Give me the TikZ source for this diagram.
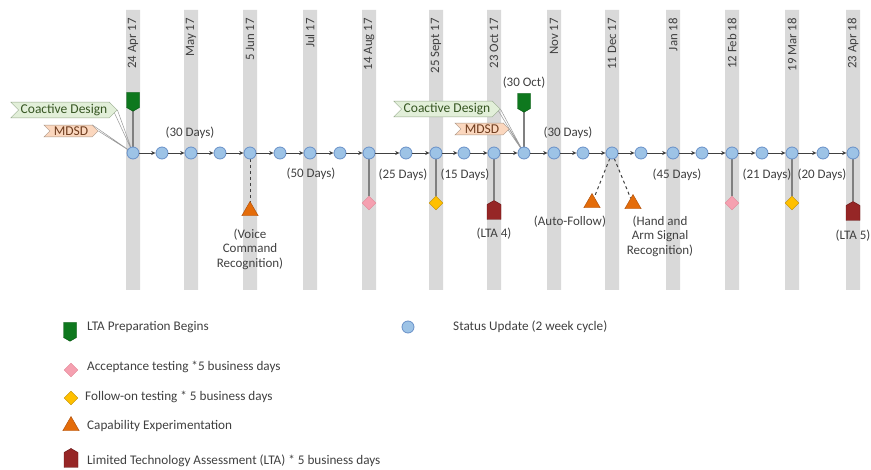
\documentclass[tikz,border=0pt]{standalone}
\usepackage{fontspec}
\setmainfont{Carlito}
\usetikzlibrary{arrows.meta,shapes.geometric,shapes.symbols,backgrounds}

\definecolor{bargray}{RGB}{217,217,217}
\definecolor{txtgray}{RGB}{64,64,64}
\definecolor{stemgray}{RGB}{128,128,128}
\definecolor{updfill}{RGB}{157,195,230}
\definecolor{updline}{RGB}{105,145,200}
\definecolor{prepfill}{RGB}{14,120,30}
\definecolor{prepline}{RGB}{0,80,10}
\definecolor{ltafill}{RGB}{150,38,38}
\definecolor{ltaline}{RGB}{100,20,20}
\definecolor{accfill}{RGB}{245,160,176}
\definecolor{accline}{RGB}{225,135,150}
\definecolor{folfill}{RGB}{255,192,0}
\definecolor{folline}{RGB}{190,140,0}
\definecolor{capfill}{RGB}{228,108,10}
\definecolor{capline}{RGB}{170,75,5}
\definecolor{cdfill}{RGB}{226,239,217}
\definecolor{cdline}{RGB}{150,170,140}
\definecolor{cdtext}{RGB}{55,86,35}
\definecolor{mdfill}{RGB}{251,215,190}
\definecolor{mdline}{RGB}{170,150,135}
\definecolor{mdtext}{RGB}{110,60,30}

\tikzset{
  upd/.style={circle,draw=updline,fill=updfill,line width=0.8pt,minimum size=12pt,inner sep=0pt},
  tl/.style={-{Stealth[length=4.5pt,width=4pt]},draw=txtgray,line width=0.9pt},
  datelbl/.style={rotate=90,anchor=east,text=txtgray,inner sep=0pt,font=\fontsize{12.8}{14}\selectfont},
  lbl/.style={text=txtgray,align=center,inner sep=0pt,font=\fontsize{13}{14.5}\selectfont},
  leg/.style={text=txtgray,anchor=west,inner sep=0pt,font=\fontsize{13.2}{15}\selectfont},
  prep/.style={signal,signal to=south,signal pointer angle=120,draw=prepline,fill=prepfill,
    minimum width=13pt,minimum height=15pt,inner sep=0pt},
  lta/.style={signal,signal to=north,signal pointer angle=120,draw=ltaline,fill=ltafill,
    minimum width=14pt,minimum height=15pt,inner sep=0pt},
  acc/.style={diamond,draw=accline,fill=accfill,minimum size=14pt,inner sep=0pt},
  fol/.style={diamond,draw=folline,fill=folfill,minimum size=14pt,inner sep=0pt},
  capexp/.style={regular polygon,regular polygon sides=3,draw=capline,fill=capfill,minimum size=19pt,inner sep=0pt},
  cdbanner/.style={signal,signal from=west,signal to=east,draw=cdline,fill=cdfill,text=cdtext,
    inner xsep=2pt,inner ysep=2pt,font=\fontsize{13.5}{14}\selectfont},
  mdbanner/.style={signal,signal from=west,signal to=east,draw=mdline,fill=mdfill,text=mdtext,
    inner xsep=4pt,inner ysep=1.5pt,font=\fontsize{13.5}{14}\selectfont},
  stem/.style={draw=stemgray,line width=1.2pt},
  dstem/.style={draw=txtgray,dashed,line width=1pt},
  ptr/.style={draw=stemgray!80,line width=0.5pt}
}

\begin{document}
\begin{tikzpicture}[x=1pt,y=-1pt]
\useasboundingbox (0,0) rectangle (871,470);

\node[datelbl] (d1) at (133,18) {24 Apr 17};
\node[datelbl] (d2) at (191,18) {May 17};
\node[datelbl] (d3) at (250,18) {5 Jun 17};
\node[datelbl] (d4) at (310,18) {Jul 17};
\node[datelbl] (d5) at (369,18) {14 Aug 17};
\node[datelbl] (d6) at (436,18) {25 Sept 17};
\node[datelbl] (d7) at (494,18) {23 Oct 17};
\node[datelbl] (d8) at (554,18) {Nov 17};
\node[datelbl] (d9) at (612,18) {11 Dec 17};
\node[datelbl] (d10) at (673,18) {Jan 18};
\node[datelbl] (d11) at (732,18) {12 Feb 18};
\node[datelbl] (d12) at (792,18) {19 Mar 18};
\node[datelbl] (d13) at (853,18) {23 Apr 18};

% status updates along the line, starting from the left
\path (133,153) node[upd] (u1) {}
  (162,153) node[upd] (u2) {}
  (191,153) node[upd] (u3) {}
  (220,153) node[upd] (u4) {}
  (250,153) node[upd] (u5) {}
  (280,153) node[upd] (u6) {}
  (310,153) node[upd] (u7) {}
  (340,153) node[upd] (u8) {}
  (369,153) node[upd] (u9) {}
  (406,153) node[upd] (u10) {}
  (436,153) node[upd] (u11) {}
  (464,153) node[upd] (u12) {}
  (494,153) node[upd] (u13) {}
  (524,153) node[upd] (u14) {}
  (554,153) node[upd] (u15) {}
  (583,153) node[upd] (u16) {}
  (612,153) node[upd] (u17) {}
  (641,153) node[upd] (u18) {}
  (673,153) node[upd] (u19) {}
  (702,153) node[upd] (u20) {}
  (732,153) node[upd] (u21) {}
  (762,153) node[upd] (u22) {}
  (792,153) node[upd] (u23) {}
  (823,153) node[upd] (u24) {}
  (853,153) node[upd] (u25) {};
\path (u1) edge[tl] (u2) (u2) edge[tl] (u3) (u3) edge[tl] (u4) (u4) edge[tl] (u5)
  (u5) edge[tl] (u6) (u6) edge[tl] (u7) (u7) edge[tl] (u8) (u8) edge[tl] (u9)
  (u9) edge[tl] (u10) (u10) edge[tl] (u11) (u11) edge[tl] (u12) (u12) edge[tl] (u13)
  (u13) edge[tl] (u14) (u14) edge[tl] (u15) (u15) edge[tl] (u16) (u16) edge[tl] (u17)
  (u17) edge[tl] (u18) (u18) edge[tl] (u19) (u19) edge[tl] (u20) (u20) edge[tl] (u21)
  (u21) edge[tl] (u22) (u22) edge[tl] (u23) (u23) edge[tl] (u24) (u24) edge[tl] (u25);

% markers above and below the line
\node[prep] (p1) at (133,100) {};
\node[prep] (p2) at (524,101) {};
\node[cdbanner] (cd1) at (64,110) {Coactive Design};
\node[mdbanner] (md1) at (71,131) {MDSD};
\node[cdbanner] (cd2) at (447,109) {Coactive Design};
\node[mdbanner] (md2) at (482,129) {MDSD};
\node[capexp] (c1) at (250,211) {};
\node[acc] (a1) at (369,203) {};
\node[fol] (f1) at (436,203) {};
\node[lta] (l1) at (494,212) {};
\node[capexp] (c2) at (592,203) {};
\node[capexp] (c3) at (633,204) {};
\node[acc] (a2) at (732,203) {};
\node[fol] (f2) at (792,203) {};
\node[lta] (l2) at (853,213) {};

\begin{scope}[on background layer]
% gray month bars, left to right
\fill[bargray] (126,10) rectangle (140,290)
  (184,10) rectangle (198,290)
  (243,10) rectangle (257,290)
  (303,10) rectangle (317,290)
  (362,10) rectangle (376,290)
  (429,10) rectangle (443,290)
  (487,10) rectangle (501,290)
  (547,10) rectangle (561,290)
  (605,10) rectangle (619,290)
  (666,10) rectangle (680,290)
  (725,10) rectangle (739,290)
  (785,10) rectangle (799,290)
  (846,10) rectangle (860,290);
\draw[stem] (p1) -- (u1.center);
\draw[stem] (p2) -- (u14.center);
\draw[ptr] (cd1.north east) -- (u1.center) (cd1.east) -- (u1.center);
\draw[ptr] (md1.north east) -- (u1.center) (md1.east) -- (u1.center);
\draw[ptr] (cd2.north east) -- (u14.center) (cd2.east) -- (u14.center);
\draw[ptr] (md2.north east) -- (u14.center) (md2.east) -- (u14.center);
\draw[dstem] (u5.center) -- (c1);
\draw[stem] (u9.center) -- (a1);
\draw[stem] (u11.center) -- (f1);
\draw[stem] (u13.center) -- (l1);
\draw[dstem] (u17.center) -- (c2);
\draw[dstem] (u17.center) -- (c3);
\draw[stem] (u21.center) -- (a2);
\draw[stem] (u23.center) -- (f2);
\draw[stem] (u25.center) -- (l2);
\end{scope}

\node[lbl] (t1) at (190,133) {(30 Days)};
\node[lbl] (t2) at (311,174) {(50 Days)};
\node[lbl] (t3) at (403,175) {(25 Days)};
\node[lbl] (t4) at (465,175) {(15 Days)};
\node[lbl] (t5) at (524,83) {(30 Oct)};
\node[lbl] (t6) at (568,133) {(30 Days)};
\node[lbl] (t7) at (677,175) {(45 Days)};
\node[lbl] (t8) at (767,175) {(21 Days)};
\node[lbl] (t9) at (822,175) {(20 Days)};
\node[lbl] (v1) at (250,249) {(Voice\\Command\\Recognition)};
\node[lbl] (v2) at (494,234) {(LTA 4)};
\node[lbl] (v3) at (570,222) {(Auto-Follow)};
\node[lbl] (v4) at (660,236) {(Hand and\\Arm Signal\\Recognition)};
\node[lbl] (v5) at (853,236) {(LTA 5)};

% legend
\node[prep] (kp) at (70,330) {};
\node[leg] (kpt) at (87,327) {LTA Preparation Begins};
\node[upd] (ku) at (408,327) {};
\node[leg] (kut) at (453,327) {Status Update (2 week cycle)};
\node[acc] (ka) at (71,370) {};
\node[leg] (kat) at (87,367) {Acceptance testing *5 business days};
\node[fol] (kf) at (71,398) {};
\node[leg] (kft) at (85,397) {Follow-on testing * 5 business days};
\node[capexp] (kc) at (71,426) {};
\node[leg] (kct) at (87,426) {Capability Experimentation};
\node[lta] (kl) at (71,460) {};
\node[leg] (klt) at (87,461) {Limited Technology Assessment (LTA) * 5 business days};
\end{tikzpicture}
\end{document}
